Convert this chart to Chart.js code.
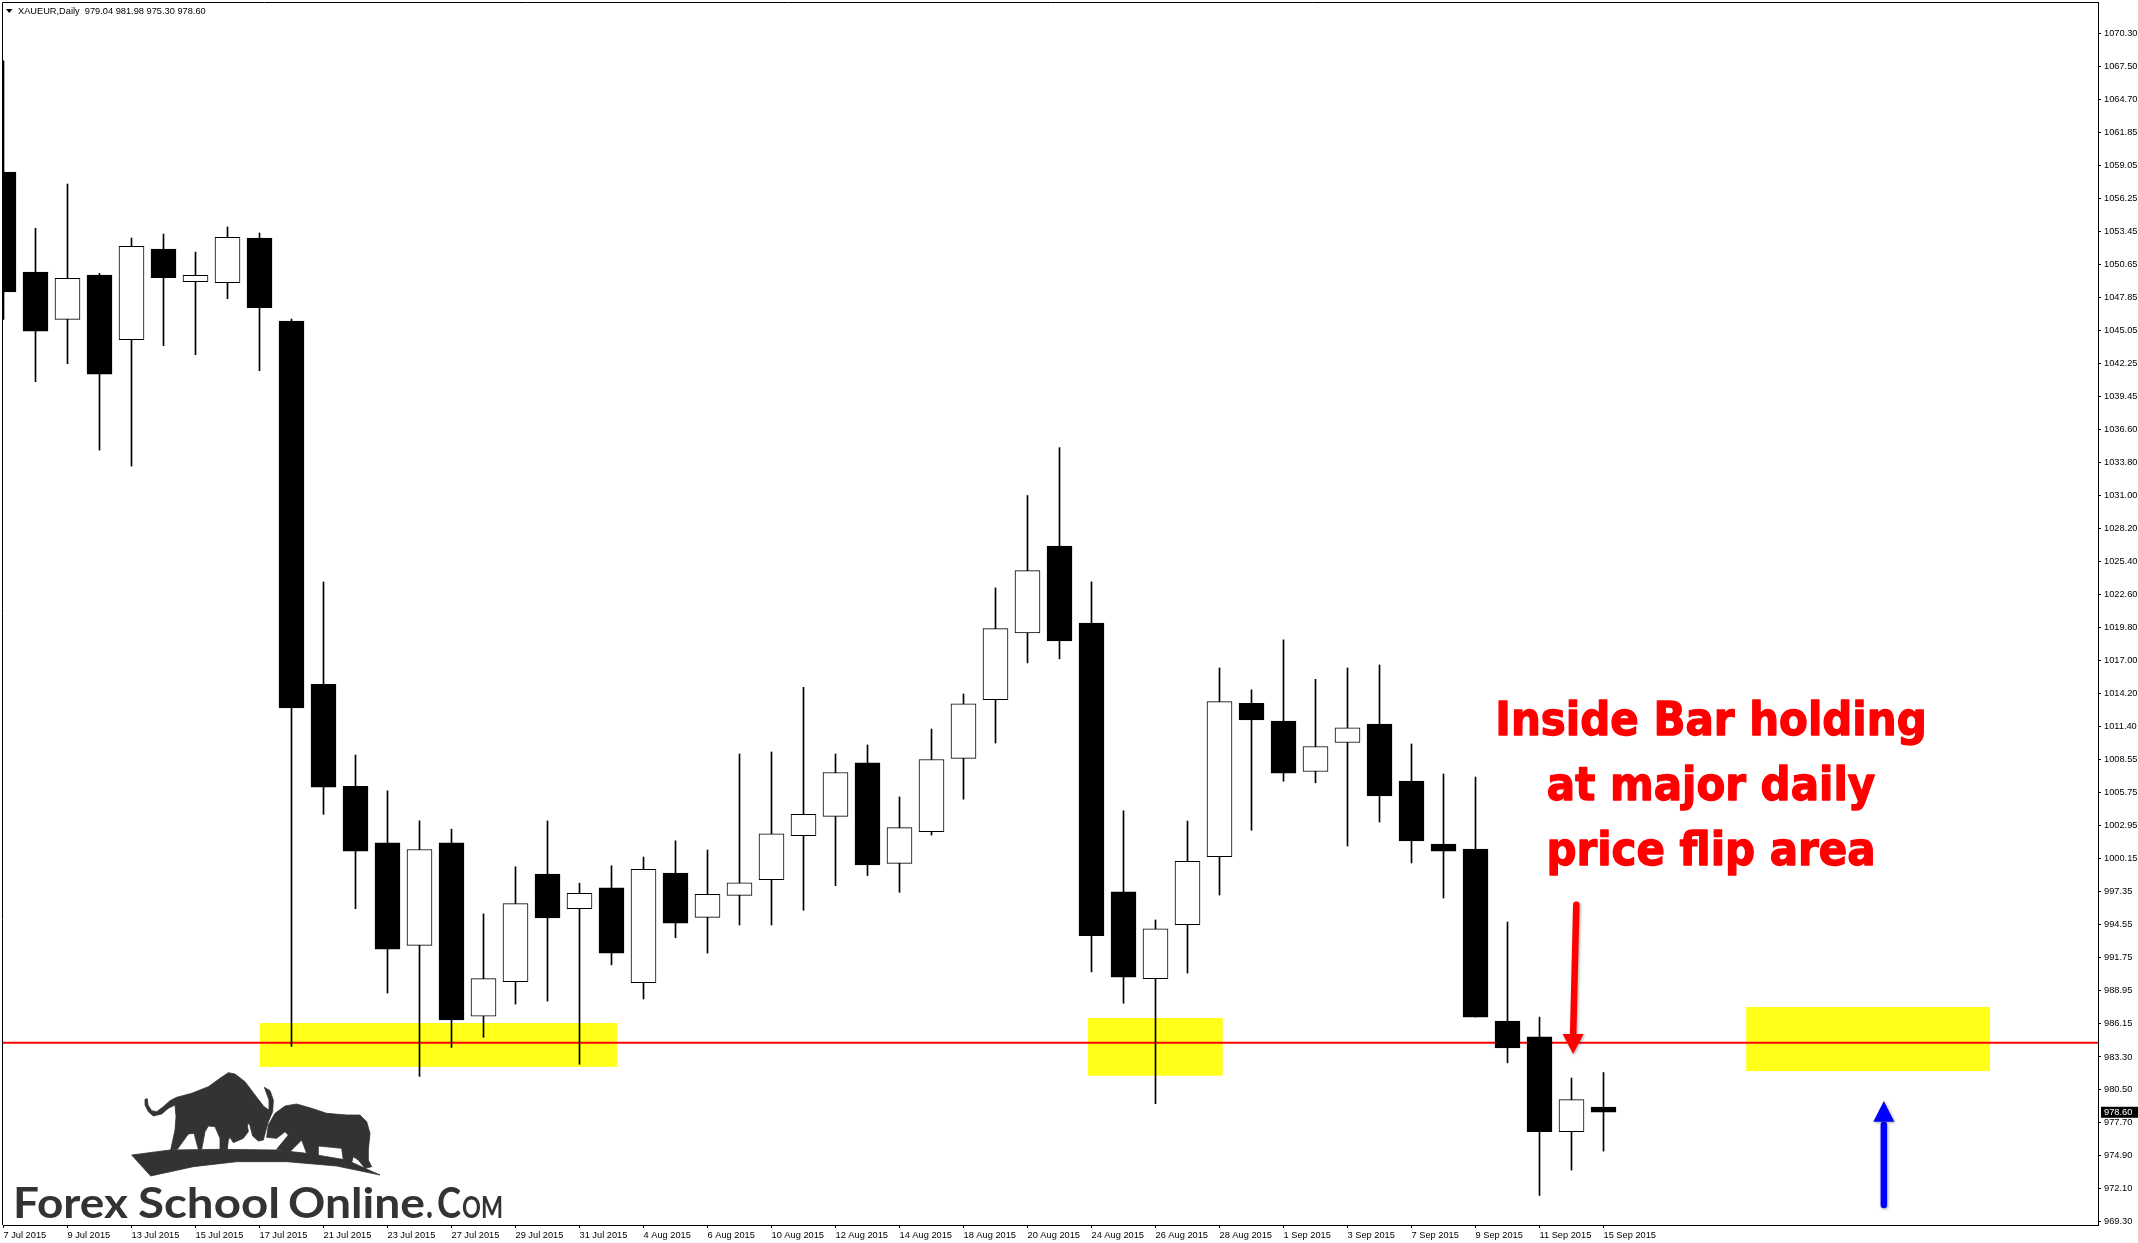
<!DOCTYPE html>
<html>
<head>
<meta charset="utf-8">
<title>XAUEUR,Daily</title>
<script src="https://cdn.jsdelivr.net/npm/chart.js@4"></script>
<style>
  html, body { margin: 0; padding: 0; background: #fff; }
  canvas { display: block; }
</style>
</head>
<body>
<canvas id="myChart" width="2138" height="1243"></canvas>
<script>
const ctx = document.getElementById('myChart');

const symbolName = "XAUEUR,Daily";

// one entry per daily bar, 7 Jul 2015 to 15 Sep 2015
const barDates = ["7 Jul 2015","8 Jul 2015","9 Jul 2015","10 Jul 2015","13 Jul 2015","14 Jul 2015","15 Jul 2015","16 Jul 2015","17 Jul 2015",
  "20 Jul 2015","21 Jul 2015","22 Jul 2015","23 Jul 2015","24 Jul 2015","27 Jul 2015","28 Jul 2015","29 Jul 2015","30 Jul 2015","31 Jul 2015",
  "3 Aug 2015","4 Aug 2015","5 Aug 2015","6 Aug 2015","7 Aug 2015","10 Aug 2015","11 Aug 2015","12 Aug 2015","13 Aug 2015","14 Aug 2015",
  "17 Aug 2015","18 Aug 2015","19 Aug 2015","20 Aug 2015","21 Aug 2015","24 Aug 2015","25 Aug 2015","26 Aug 2015","27 Aug 2015","28 Aug 2015",
  "31 Aug 2015","1 Sep 2015","2 Sep 2015","3 Sep 2015","4 Sep 2015","7 Sep 2015","8 Sep 2015","9 Sep 2015","10 Sep 2015","11 Sep 2015",
  "14 Sep 2015","15 Sep 2015"];

const opens = [1058.51,1050.01,1045.99,1049.76,1044.26,1051.97,1049.19,1049.10,1052.90,
  1045.85,1014.98,1006.31,1001.49,992.78,1001.49,986.76,989.70,998.85,995.90,
  997.68,989.61,998.93,995.17,997.03,998.37,1002.10,1003.75,1008.30,999.76,
  1002.45,1008.68,1013.67,1019.35,1026.73,1020.18,997.33,989.95,994.55,1000.32,
  1013.36,1011.85,1007.56,1010.03,1011.60,1006.74,1001.40,1000.97,986.36,985.01,
  976.95,979.04];
const highs = [1067.95,1053.73,1057.49,1049.90,1052.90,1053.24,1051.71,1053.84,1053.33,
  1046.02,1023.67,1008.96,1005.92,1003.36,1002.66,995.46,999.46,1003.36,998.07,
  999.55,1000.29,1001.67,1000.89,1009.05,1009.22,1014.72,1009.05,1009.82,1005.40,
  1011.17,1014.15,1023.17,1031.02,1035.09,1023.69,1004.22,994.94,1003.35,1016.36,
  1014.50,1018.75,1015.40,1016.36,1016.62,1009.90,1007.35,1007.09,994.77,986.69,
  981.51,981.98];
const lows = [1045.99,1040.69,1042.22,1034.88,1033.52,1043.75,1042.98,1047.74,1041.62,
  984.20,1003.92,995.90,988.74,981.64,984.11,984.97,987.79,988.05,982.68,
  991.13,988.23,993.43,992.13,994.52,994.52,995.77,997.86,998.72,997.29,
  1002.16,1005.21,1009.98,1016.79,1017.14,990.52,987.87,979.33,990.43,997.06,
  1002.57,1006.74,1006.60,1001.23,1003.27,999.79,996.81,986.69,982.80,971.53,
  973.69,975.30];
const closes = [1048.31,1044.99,1049.48,1041.34,1052.20,1049.53,1049.73,1052.96,1046.98,
  1012.96,1006.23,1000.80,992.47,1000.93,986.45,989.96,996.33,995.12,997.20,
  992.13,999.24,994.68,997.12,998.11,1002.27,1003.92,1007.48,999.63,1002.79,
  1008.58,1013.32,1019.70,1024.64,1018.66,993.60,990.09,994.20,999.93,1013.50,
  1011.94,1007.43,1009.69,1011.28,1005.48,1001.66,1000.80,986.69,984.06,976.96,
  979.68,978.60];

// price axis labels as printed on the terminal
const priceTicks = [1070.30,1067.50,1064.70,1061.85,1059.05,1056.25,1053.45,1050.65,1047.85,1045.05,1042.25,1039.45,1036.60,1033.80,
  1031.00,1028.20,1025.40,1022.60,1019.80,1017.00,1014.20,1011.40,1008.55,1005.75,1002.95,1000.15,997.35,994.55,991.75,988.95,
  986.15,983.30,980.50,977.70,974.90,972.10,969.30];

const flipPrice = 984.51;

// yellow zones, in bar index and price
const zoneStarts = [8.01,33.89,54.46];
const zoneEnds = [19.17,38.10,62.08];
const zoneTops = [986.19,986.61,987.55];
const zoneBottoms = [982.46,981.71,982.10];

const noteLines = ["Inside Bar holding","at major daily","price flip area"];
const noteBar = 53.36;
const notePrices = [1010.66,1005.14,999.62];

// hand drawn arrows on the chart: tail, tip, where the head starts
const arrowColors = ["#ff0000","#0000ff"];
const arrowTailBars = [49.15,58.76];
const arrowTipBars = [49.05,58.76];
const arrowTailPrices = [996.24,970.72];
const arrowTipPrices = [983.55,979.56];
const arrowNeckPrices = [985.25,977.80];

const axisFont = {family: "'Liberation Sans', sans-serif", size: 9.25};
const xMin = -0.0156;
const xMax = 65.453;

Chart.defaults.font.family = axisFont.family;
Chart.defaults.font.size = axisFont.size;
Chart.defaults.color = "#000";

// zones go behind the candles
const zonesPlugin = {
  id: 'zones',
  beforeDatasetsDraw(chart) {
    const c = chart.ctx, x = chart.scales.x, y = chart.scales.y;
    c.save();
    c.fillStyle = "#ffff1a";
    zoneStarts.forEach(function(start, i) {
      const left = x.getPixelForValue(start);
      const top = y.getPixelForValue(zoneTops[i]);
      c.fillRect(left, top, x.getPixelForValue(zoneEnds[i]) - left, y.getPixelForValue(zoneBottoms[i]) - top);
    });
    c.restore();
  }
};

function drawArrow(c, x1, y1, x2, y2, neck, color) {
  c.save();
  c.shadowColor = "rgba(0,0,0,0.35)";
  c.shadowBlur = 3;
  c.shadowOffsetX = 1;
  c.shadowOffsetY = 1;
  c.strokeStyle = color;
  c.fillStyle = color;
  c.lineWidth = 6.5;
  c.lineCap = "round";
  c.beginPath();
  c.moveTo(x1, y1);
  c.lineTo(x2, neck + 3);
  c.stroke();
  c.beginPath();
  c.moveTo(x2, y2);
  c.lineTo(x2 - 10.5, neck);
  c.lineTo(x2 + 10.5, neck);
  c.closePath();
  c.fill();
  c.restore();
}

// logo is a picture in the original, so it is a plain path here
const bullShape = [[75,118],[82,116],[84,135],[95,152],[110,155],[130,140],[150,122],[170,112],[215,100],[265,80],[300,55],[325,38],[345,42],[375,65],[405,105],[432,140],[447,150],[447,120],[433,82],[450,92],[460,120],[458,155],[445,185],[438,210],[430,240],[415,243],[398,228],[388,190],[382,195],[385,215],[370,235],[340,248],[330,232],[325,240],[322,268],[300,268],[300,235],[285,200],[265,198],[255,215],[245,268],[235,268],[222,220],[205,222],[172,268],[152,270],[165,210],[168,170],[165,135],[145,145],[125,162],[100,168],[85,155],[75,135]];
const bearShape = [[440,232],[445,195],[465,160],[495,138],[530,132],[575,145],[620,160],[680,165],[720,165],[740,185],[750,220],[745,270],[745,300],[755,320],[735,325],[715,300],[700,290],[692,318],[670,300],[665,265],[595,258],[595,290],[560,280],[545,240],[510,275],[470,268],[505,225],[495,215],[470,235]];
const groundShape = [[35,285],[150,270],[300,268],[470,270],[560,280],[680,300],[780,345],[650,318],[500,305],[350,305],[220,320],[92,348]];

// squeeze or stretch a word so it runs from left to right
function fitText(c, text, left, right, baseline) {
  const w = c.measureText(text).width;
  c.save();
  c.translate(left, baseline);
  c.scale((right - left) / w, 1);
  c.fillText(text, 0, 0);
  c.restore();
}

function drawLogo(c) {
  c.save();
  c.fillStyle = "#333";
  c.strokeStyle = "#333";
  c.lineWidth = 0.8;
  c.lineJoin = "round";
  [bullShape, bearShape, groundShape].forEach(function(shape) {
    c.beginPath();
    shape.forEach(function(p, i) {
      const px = 120 + p[0] / 3, py = 1060 + p[1] / 3;
      if (i == 0) c.moveTo(px, py); else c.lineTo(px, py);
    });
    c.closePath();
    c.fill();
    c.stroke();
  });
  c.textAlign = "left";
  c.textBaseline = "alphabetic";
  c.font = "700 42px Lato, sans-serif";
  fitText(c, "Forex", 13, 128, 1218);
  fitText(c, "School", 138, 280, 1218);
  fitText(c, "Online", 288, 425, 1218);
  fitText(c, ".", 426, 433, 1218);
  fitText(c, "C", 437, 461, 1218);
  c.font = "700 30px Lato, sans-serif";
  fitText(c, "OM", 462, 503, 1218);
  c.restore();
}

// everything that sits on top of the chart
const overlayPlugin = {
  id: 'overlay',
  afterDraw(chart) {
    const c = chart.ctx, x = chart.scales.x, y = chart.scales.y, area = chart.chartArea;
    c.save();

    // chart frame, right and bottom come from the axes
    c.strokeStyle = "#000";
    c.lineWidth = 1;
    c.beginPath();
    c.moveTo(2.5, area.bottom);
    c.lineTo(2.5, 2.5);
    c.lineTo(area.right, 2.5);
    c.stroke();

    // symbol line
    c.fillStyle = "#000";
    c.beginPath();
    c.moveTo(6, 9);
    c.lineTo(12.5, 9);
    c.lineTo(9.25, 13);
    c.closePath();
    c.fill();
    const last = closes.length - 1;
    const values = [opens[last], highs[last], lows[last], closes[last]].map(v => v.toFixed(2)).join(" ");
    c.font = axisFont.size + "px " + axisFont.family;
    c.textAlign = "left";
    c.textBaseline = "middle";
    c.fillText(symbolName + "  " + values, 18, 11);

    // current price box
    const py = y.getPixelForValue(closes[last]);
    c.fillStyle = "#000";
    c.fillRect(2101, py - 5.5, 37, 11);
    c.fillStyle = "#fff";
    c.fillText(closes[last].toFixed(2), 2104, py);

    // red note, the outline thickens the letters
    c.fillStyle = "#ff0000";
    c.strokeStyle = "#ff0000";
    c.lineWidth = 1.3;
    c.lineJoin = "round";
    c.font = "bold 42px 'DejaVu Sans'";
    c.textAlign = "center";
    c.textBaseline = "alphabetic";
    noteLines.forEach(function(line, i) {
      c.save();
      c.translate(x.getPixelForValue(noteBar), y.getPixelForValue(notePrices[i]));
      c.scale(1, 1.08);
      c.fillText(line, 0, 0);
      c.strokeText(line, 0, 0);
      c.restore();
    });
    c.restore();

    arrowColors.forEach(function(color, i) {
      drawArrow(c, x.getPixelForValue(arrowTailBars[i]), y.getPixelForValue(arrowTailPrices[i]),
        x.getPixelForValue(arrowTipBars[i]), y.getPixelForValue(arrowTipPrices[i]),
        y.getPixelForValue(arrowNeckPrices[i]), color);
    });

    drawLogo(c);
  }
};

const myChart = new Chart(ctx, {
  type: 'bar',
  data: {
    datasets: [
      {
        // candle bodies, white when the bar closed up
        data: barDates.map((d, i) => ({x: i, y: [opens[i], closes[i]]})),
        backgroundColor: barDates.map((d, i) => closes[i] < opens[i] ? "#000" : "#fff"),
        borderColor: "#000",
        borderWidth: 1,
        borderSkipped: false,
        barThickness: 25,
        grouped: false,
        order: 1
      },
      {
        // wicks
        data: barDates.map((d, i) => ({x: i, y: [lows[i], highs[i]]})),
        backgroundColor: "#000",
        borderWidth: 0,
        barThickness: 1,
        grouped: false,
        order: 2
      },
      {
        type: 'line',
        data: [{x: xMin, y: flipPrice}, {x: xMax, y: flipPrice}],
        borderColor: "#ff0000",
        borderWidth: 2,
        pointRadius: 0,
        order: 3
      }
    ]
  },
  options: {
    responsive: false,
    animation: false,
    events: [],
    layout: {padding: {left: 3, top: 2}},
    plugins: {legend: {display: false}, tooltip: {enabled: false}},
    scales: {
      x: {
        type: 'linear',
        offset: false,
        min: xMin,
        max: xMax,
        grid: {offset: false, drawOnChartArea: false, color: "#000", tickLength: 3},
        border: {color: "#000", width: 1},
        afterBuildTicks: function(axis) {
          axis.ticks = barDates.map((d, i) => ({value: i})).filter(t => t.value % 2 == 0);
        },
        afterFit: function(axis) {
          axis.height = 18;
          // stop the end labels from pushing the plot area in
          axis.paddingLeft = 0;
          axis.paddingRight = 0;
        },
        ticks: {
          autoSkip: false,
          maxRotation: 0,
          minRotation: 0,
          align: 'start',
          padding: 2,
          font: axisFont,
          color: "#000",
          callback: function(value) { return barDates[value]; }
        }
      },
      y: {
        position: 'right',
        min: 969.02,
        max: 1072.96,
        grid: {drawOnChartArea: false, color: "#000", tickLength: 3},
        border: {color: "#000", width: 1},
        afterBuildTicks: function(axis) {
          axis.ticks = priceTicks.map(v => ({value: v}));
        },
        afterFit: function(axis) {
          axis.width = 40;
          axis.paddingTop = 0;
          axis.paddingBottom = 0;
        },
        ticks: {
          autoSkip: false,
          padding: 3,
          font: axisFont,
          color: "#000",
          callback: function(value) { return value.toFixed(2); }
        }
      }
    }
  },
  plugins: [zonesPlugin, overlayPlugin]
});
</script>
</body>
</html>
